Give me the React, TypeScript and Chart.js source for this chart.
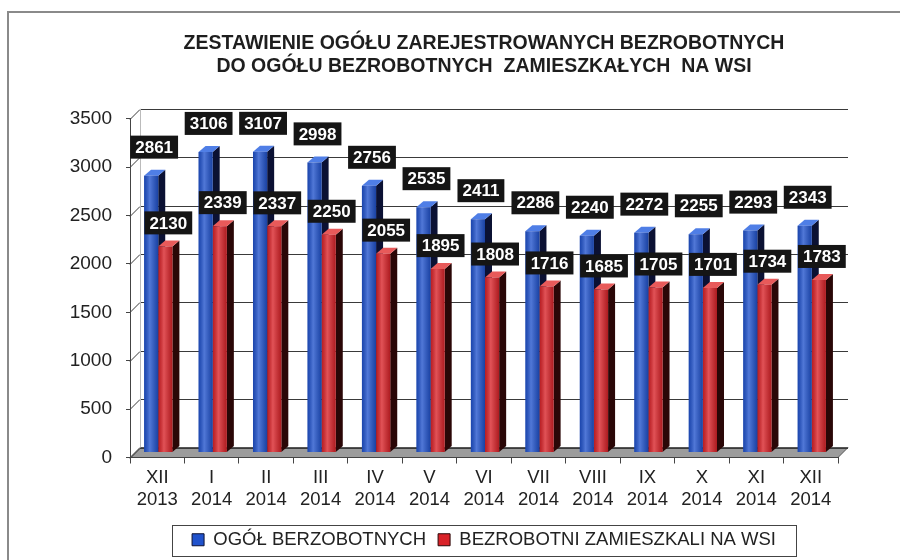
import React, { useEffect, useRef } from "react";
import { Chart, registerables } from "chart.js";

Chart.register(...registerables);

const titleLines = [
  "ZESTAWIENIE OGÓŁU ZAREJESTROWANYCH BEZROBOTNYCH",
  "DO OGÓŁU BEZROBOTNYCH  ZAMIESZKAŁYCH  NA WSI",
];
const categories = [
  ["XII", "2013"],
  ["I", "2014"],
  ["II", "2014"],
  ["III", "2014"],
  ["IV", "2014"],
  ["V", "2014"],
  ["VI", "2014"],
  ["VII", "2014"],
  ["VIII", "2014"],
  ["IX", "2014"],
  ["X", "2014"],
  ["XI", "2014"],
  ["XII", "2014"],
];
const seriesNames = ["OGÓŁ BERZOBOTNYCH", "BEZROBOTNI ZAMIESZKALI NA WSI"];
const totalUnemployed = [2861, 3106, 3107, 2998, 2756, 2535, 2411, 2286, 2240, 2272, 2255, 2293, 2343];
const ruralUnemployed = [2130, 2339, 2337, 2250, 2055, 1895, 1808, 1716, 1685, 1705, 1701, 1734, 1783];
const yTicks = [0, 500, 1000, 1500, 2000, 2500, 3000, 3500];

const FONT = "'Liberation Sans', Arial, sans-serif";
const WALL_DX = 10;
const WALL_DY = -10;
const BAR_TX = 1;
const BAR_TY = -5;
const BAR_DX = 7;
const BAR_DY = -6;
const FRONT = ["#2052cc", "#d92228"];
const SIDE = ["#0b1133", "#2a0707"];
const TOP = ["#4f7ee6", "#e85a5a"];

const threeD = {
  id: "threeD",
  beforeDraw(chart: any) {
    const { ctx, chartArea, scales } = chart;
    const { left, right, top, bottom } = chartArea;
    ctx.save();
    ctx.fillStyle = "#ffffff";
    ctx.fillRect(0, 0, chart.width, chart.height);
    ctx.strokeStyle = "#8a8a8a";
    ctx.lineWidth = 2;
    ctx.beginPath();
    ctx.moveTo(8, chart.height);
    ctx.lineTo(8, 12);
    ctx.lineTo(chart.width, 12);
    ctx.stroke();
    ctx.fillStyle = "#9c9c9c";
    ctx.beginPath();
    ctx.moveTo(left, bottom);
    ctx.lineTo(left + WALL_DX, bottom + WALL_DY);
    ctx.lineTo(right + WALL_DX, bottom + WALL_DY);
    ctx.lineTo(right, bottom);
    ctx.closePath();
    ctx.fill();
    ctx.strokeStyle = "#555";
    ctx.lineWidth = 1;
    ctx.stroke();
    ctx.strokeStyle = "#3a3a3a";
    ctx.lineWidth = 1;
    for (const v of yTicks) {
      const y = Math.round(scales.y.getPixelForValue(v)) + 0.5;
      ctx.beginPath();
      ctx.moveTo(left, y);
      ctx.lineTo(left + WALL_DX, y + WALL_DY);
      ctx.lineTo(right + WALL_DX, y + WALL_DY);
      ctx.stroke();
    }
    ctx.beginPath();
    ctx.moveTo(left + WALL_DX + 0.5, top + WALL_DY);
    ctx.lineTo(left + WALL_DX + 0.5, bottom + WALL_DY);
    ctx.strokeStyle = "#bbb";
    ctx.stroke();
    ctx.restore();
  },
  beforeDatasetsDraw(chart: any) {
    const { ctx } = chart;
    ctx.save();
    ctx.translate(BAR_TX, BAR_TY);
    chart.data.datasets.forEach((_: any, di: number) => {
      const meta = chart.getDatasetMeta(di);
      meta.data.forEach((bar: any) => {
        const { x, y, base, width } = bar.getProps(["x", "y", "base", "width"], true);
        const l = x - width / 2;
        const r = x + width / 2;
        ctx.fillStyle = SIDE[di];
        ctx.beginPath();
        ctx.moveTo(r, y);
        ctx.lineTo(r + BAR_DX, y + BAR_DY);
        ctx.lineTo(r + BAR_DX, base + BAR_DY);
        ctx.lineTo(r, base);
        ctx.closePath();
        ctx.fill();
        ctx.fillStyle = TOP[di];
        ctx.beginPath();
        ctx.moveTo(l, y);
        ctx.lineTo(l + BAR_DX, y + BAR_DY);
        ctx.lineTo(r + BAR_DX, y + BAR_DY);
        ctx.lineTo(r, y);
        ctx.closePath();
        ctx.fill();
      });
    });
  },
  afterDatasetsDraw(chart: any) {
    const { ctx } = chart;
    chart.data.datasets.forEach((_: any, di: number) => {
      const meta = chart.getDatasetMeta(di);
      meta.data.forEach((bar: any) => {
        const { x, y, base, width } = bar.getProps(["x", "y", "base", "width"], true);
        const l = x - width / 2;
        const g = ctx.createLinearGradient(l, 0, l + width, 0);
        g.addColorStop(0, "rgba(0,0,0,0.15)");
        g.addColorStop(0.4, "rgba(255,255,255,0.22)");
        g.addColorStop(1, "rgba(0,0,0,0.2)");
        ctx.fillStyle = g;
        ctx.fillRect(l, y, width, base - y);
      });
    });
    ctx.restore();
  },
  afterDraw(chart: any) {
    const { ctx } = chart;
    ctx.save();
    ctx.font = `bold 17px ${FONT}`;
    ctx.textAlign = "center";
    ctx.textBaseline = "middle";
    chart.data.datasets.forEach((ds: any, di: number) => {
      const meta = chart.getDatasetMeta(di);
      meta.data.forEach((bar: any, i: number) => {
        const { x, y } = bar.getProps(["x", "y"], true);
        const text = String(ds.data[i]);
        const tw = ctx.measureText(text).width;
        const w = tw + 10;
        const h = 23;
        const cx = x + BAR_TX + 3;
        const bottomY = y + BAR_TY - (di === 0 ? 17 : 12);
        ctx.fillStyle = "#151515";
        ctx.fillRect(cx - w / 2, bottomY - h, w, h);
        ctx.fillStyle = "#ffffff";
        ctx.fillText(text, cx, bottomY - h / 2 + 1);
      });
    });
    const lg = chart.legend;
    if (lg && lg.legendHitBoxes && lg.legendHitBoxes.length) {
      const boxes = lg.legendHitBoxes;
      const x0 = boxes[0].left - 20;
      const last = boxes[boxes.length - 1];
      const x1 = last.left + last.width + 20;
      const cy = boxes[0].top + boxes[0].height / 2;
      ctx.strokeStyle = "#444";
      ctx.lineWidth = 1;
      ctx.strokeRect(Math.round(x0) + 0.5, Math.round(cy - 15) + 0.5, Math.round(x1 - x0), 31);
    }
    ctx.restore();
  },
};

export default function App() {
  const ref = useRef<HTMLCanvasElement | null>(null);
  useEffect(() => {
    if (!ref.current) return;
    const chart = new Chart(ref.current, {
      type: "bar",
      data: {
        labels: categories,
        datasets: [
          {
            label: seriesNames[0],
            data: totalUnemployed,
            backgroundColor: FRONT[0],
            borderWidth: 0,
            categoryPercentage: 0.52,
            barPercentage: 1,
          },
          {
            label: seriesNames[1],
            data: ruralUnemployed,
            backgroundColor: FRONT[1],
            borderWidth: 0,
            categoryPercentage: 0.52,
            barPercentage: 1,
          },
        ],
      },
      options: {
        animation: false,
        responsive: false,
        maintainAspectRatio: false,
        layout: { padding: { left: 8, right: 62, top: 0, bottom: 1 } },
        plugins: {
          title: {
            display: true,
            fullSize: false,
            text: titleLines,
            color: "#1e1e1e",
            font: { family: FONT, size: 19.5, weight: "bold", lineHeight: 1.2 },
            padding: { top: 32, bottom: 40 },
          },
          legend: {
            display: true,
            fullSize: false,
            position: "bottom",
            labels: {
              color: "#222",
              font: { family: FONT, size: 18.5 },
              boxWidth: 12,
              boxHeight: 12,
              padding: 12,
              generateLabels: (c: any) =>
                c.data.datasets.map((d: any, i: number) => ({
                  text: d.label,
                  fillStyle: FRONT[i],
                  strokeStyle: SIDE[i],
                  lineWidth: 1,
                  hidden: false,
                  datasetIndex: i,
                  fontColor: "#222",
                })),
            },
          },
          tooltip: { enabled: false },
        },
        scales: {
          x: {
            offset: true,
            grid: {
              display: true,
              offset: true,
              drawOnChartArea: false,
              drawTicks: true,
              tickLength: 6,
              color: "#444",
            },
            border: { display: true, color: "#444" },
            ticks: {
              color: "#222",
              font: { family: FONT, size: 18.5, lineHeight: 1.2 },
              padding: 3,
              maxRotation: 0,
              autoSkip: false,
            },
            afterFit: (s: any) => {
              s.height = 61;
            },
          },
          y: {
            min: 0,
            max: 3500,
            grid: {
              display: true,
              drawOnChartArea: false,
              drawTicks: true,
              tickLength: 4,
              color: "#444",
            },
            border: { display: true, color: "#444" },
            ticks: {
              stepSize: 500,
              color: "#222",
              font: { family: FONT, size: 19 },
              padding: 14,
              callback: (v: any) => String(v),
            },
            afterFit: (s: any) => {
              s.width = 122;
            },
          },
        },
      },
      plugins: [threeD],
    });
    return () => chart.destroy();
  }, []);
  return (
    <div style={{ position: "fixed", left: 0, top: 0, width: 900, height: 560, background: "#fff" }}>
      <canvas ref={ref} width={900} height={560} style={{ display: "block" }} />
    </div>
  );
}
